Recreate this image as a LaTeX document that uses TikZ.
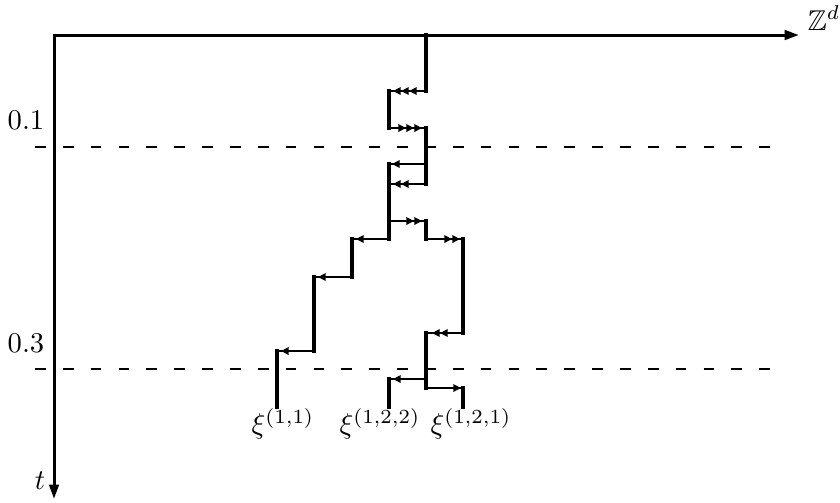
\documentclass[tikz,border=0pt]{standalone}
\usepackage{amssymb}
\usetikzlibrary{arrows.meta}
\tikzset{
  hseg/.style={line width=0.95pt, line cap=rect},
  vseg/.style={line width=1.15pt, line cap=rect},
  vthick/.style={line width=1.4pt, line cap=rect},
  axisline/.style={line width=1.05pt},
  levelline/.style={line width=0.95pt, dash pattern=on 3.75pt off 6pt},
  tipline/.style={line width=0.95pt, -{Triangle[length=2.7pt,width=2.6pt]}},
  lab/.style={inner sep=0pt}
}
\newcommand\tipL[2]{\draw[tipline] (#1+8,#2) -- (#1,#2);}
\newcommand\tipR[2]{\draw[tipline] (#1-8,#2) -- (#1,#2);}
\begin{document}
\begin{tikzpicture}[x=0.35pt,y=-0.35pt]
\useasboundingbox (0,0) rectangle (840,502);
% level lines
\coordinate (L1a) at (35,147); \coordinate (L1b) at (771,147);
\coordinate (L3a) at (35,369); \coordinate (L3b) at (771,369);
\draw[levelline] (L1a) -- (L1b);
\draw[levelline] (L3a) -- (L3b);
\node[lab] (l01) at (26,120) {$0.1$};
\node[lab] (l03) at (26,343) {$0.3$};
% trunk
\draw[vseg] (426,35) -- (426,91);
\draw[hseg] (426,91) -- (389,91);
\tipL{393}{91}\tipL{401}{91}\tipL{409}{91}
\draw[vseg] (389,91) -- (389,128);
\draw[hseg] (389,128) -- (426,128);
\tipR{406}{128}\tipR{414}{128}\tipR{422}{128}
\draw[vseg] (426,128) -- (426,184);
\draw[hseg] (426,164) -- (389,164);
\tipL{392}{164}
\draw[hseg] (426,184) -- (389,184);
\tipL{393}{184}\tipL{401}{184}
\draw[vseg] (389,164) -- (389,239);
\draw[hseg] (389,221) -- (426,221);
\tipR{414}{221}\tipR{422}{221}
\draw[vseg] (426,221) -- (426,239);
\draw[hseg] (426,239) -- (463,239);
\tipR{452}{239}\tipR{460}{239}
\draw[vseg] (463,239) -- (463,333);
\draw[hseg] (463,333) -- (426,333);
\tipL{432}{333}\tipL{440}{333}
\draw[vseg] (426,333) -- (426,388);
\draw[hseg] (426,379) -- (389,379);
\tipL{393}{379}
\draw[vseg] (389,379) -- (389,407);
\draw[hseg] (426,388) -- (463,388);
\tipR{461}{388}
\draw[vseg] (463,388) -- (463,407);
% left branch
\draw[hseg] (389,239) -- (352,239);
\tipL{356}{239}
\draw[vthick] (352,239) -- (352,277);
\draw[hseg] (352,277) -- (314,277);
\tipL{318}{277}
\draw[vthick] (314,277) -- (314,351);
\draw[hseg] (314,351) -- (277,351);
\tipL{281}{351}
\draw[vthick] (277,351) -- (277,407);
% labels
\node[lab] (x11) at (283,424) {$\xi^{(1,1)}$};
\node[lab] (x122) at (380,424) {$\xi^{(1,2,2)}$};
\node[lab] (x121) at (471,424) {$\xi^{(1,2,1)}$};
% axes
\coordinate (O) at (54,35);
\coordinate (T) at (54,499);
\coordinate (X) at (799,35);
\draw[axisline, {Triangle[length=5pt,width=3.3pt]}-{Triangle[length=5pt,width=3.3pt]}] (T) -- (O) -- (X);
\node[lab] (zd) at (824,18) {$\mathbb{Z}^d$};
\node[lab] (tl) at (40,481) {$t$};
\end{tikzpicture}
\end{document}
